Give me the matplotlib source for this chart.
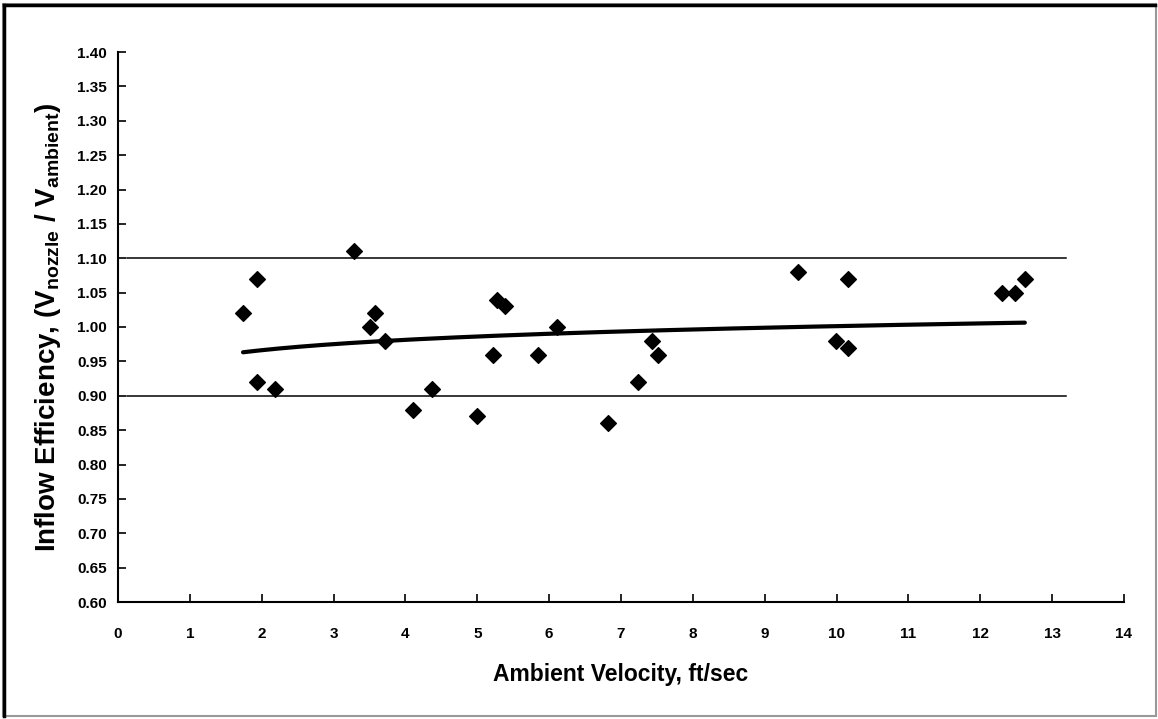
import numpy as np
import matplotlib
matplotlib.use("Agg")
import matplotlib.pyplot as plt
from matplotlib.patches import Rectangle

plt.rcParams["font.family"] = ["Liberation Sans", "DejaVu Sans"]
plt.rcParams["font.weight"] = "bold"
plt.rcParams["mathtext.fontset"] = "custom"
plt.rcParams["mathtext.rm"] = "Liberation Sans:bold"
plt.rcParams["mathtext.it"] = "Liberation Sans:bold"
plt.rcParams["mathtext.bf"] = "Liberation Sans:bold"

# измеренные точки
velocity = [1.74, 1.94, 1.93, 2.18, 3.28, 3.50, 3.58, 3.72, 4.10, 4.37,
            4.99, 5.22, 5.27, 5.38, 5.84, 6.11, 6.82, 7.24, 7.43, 7.51,
            9.46, 9.99, 10.16, 10.16, 12.30, 12.49, 12.62]
efficiency = [1.02, 1.07, 0.92, 0.91, 1.11, 1.00, 1.02, 0.98, 0.88, 0.91,
              0.87, 0.96, 1.04, 1.03, 0.96, 1.00, 0.86, 0.92, 0.98, 0.96,
              1.08, 0.98, 1.07, 0.97, 1.05, 1.05, 1.07]

# границы допуска
band_x = [0.12, 13.19]
band_upper = 1.10
band_lower = 0.90

x_ticks = list(range(0, 15))
y_ticks = [round(0.60 + 0.05 * i, 2) for i in range(17)]

fig = plt.figure(figsize=(11.58, 7.19), dpi=100)
ax = fig.add_axes([118 / 1158, 1 - 602 / 719, (1124 - 118) / 1158, 550 / 719])

# рамка вокруг диаграммы
fig.patches.append(Rectangle((3 / 1158, 3 / 719), 1153 / 1158, 712 / 719,
                             transform=fig.transFigure, fill=False,
                             edgecolor="#999999", linewidth=1.5))
fig.lines.append(plt.Line2D([4 / 1158, 4 / 1158], [3 / 719, 714 / 719],
                            transform=fig.transFigure, color="black", lw=2.5))
fig.lines.append(plt.Line2D([4 / 1158, 1155 / 1158], [714 / 719, 714 / 719],
                            transform=fig.transFigure, color="black", lw=2.5))

ax.plot(band_x, [band_upper, band_upper], color="black", lw=1.1)
ax.plot(band_x, [band_lower, band_lower], color="black", lw=1.1)

ax.scatter(velocity, efficiency, marker="D", s=64, color="black", zorder=3)

# логарифмический тренд
vx = np.array(velocity)
coef = np.polyfit(np.log(vx), np.array(efficiency), 1)
xt = np.linspace(vx.min(), vx.max(), 200)
ax.plot(xt, coef[0] * np.log(xt) + coef[1], color="black", lw=3,
        solid_capstyle="round", zorder=2)

ax.set_xlim(0, 14)
ax.set_ylim(0.60, 1.40)
ax.set_xticks(x_ticks)
ax.set_yticks(y_ticks)
ax.set_yticklabels([f"{v:.2f}" for v in y_ticks])
for s in ["top", "right"]:
    ax.spines[s].set_visible(False)
for s in ["left", "bottom"]:
    ax.spines[s].set_linewidth(1.5)
ax.tick_params(direction="in", length=6, width=1.2, labelsize=11, pad=8)
ax.tick_params(axis="x", pad=18)

ax.set_xlabel("Ambient Velocity, ft/sec", fontsize=16.5, fontweight="bold", labelpad=16)
ax.set_ylabel(r"Inflow Efficiency, (V$_{\mathbf{nozzle}}$ / V$_{\mathbf{ambient}}$)",
              fontsize=20, fontweight="bold", labelpad=10)

fig.savefig("out.png", dpi=100)
